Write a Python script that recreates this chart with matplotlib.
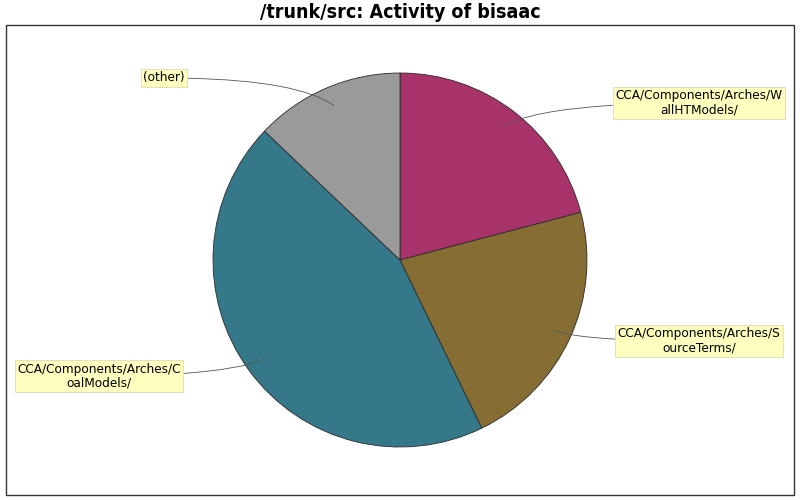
import numpy as np
import matplotlib.pyplot as plt
from matplotlib.patches import Rectangle

# Slice data (share of activity, %), clockwise from 12 o'clock
labels = ['CCA/Components/Arches/W\nallHTModels/',
          'CCA/Components/Arches/S\nourceTerms/',
          'CCA/Components/Arches/C\noalModels/',
          '(other)']
shares = [20.9, 21.9, 44.3, 12.9]
colors = ['#A8336A', '#866D34', '#347889', '#9A9A9A']

# label box centres (pixel coords, y up) and the end angle of each leader line
label_pos = [(699, 397), (699, 159), (99, 124), (164, 422)]
leader_angle = [31, -22, 22, -35]

W, H = 800, 500
fig = plt.figure(figsize=(8, 5), dpi=100)
ax = fig.add_axes([0, 0, 1, 1])

# outer frame
ax.add_patch(Rectangle((5.5, 5.5), 788.5, 469.5, fill=False,
                       edgecolor='#333333', linewidth=1.0))

cx, cy, r = 400, 240, 187
wedges, _ = ax.pie(shares, colors=colors, startangle=90, counterclock=False,
                   center=(cx, cy), radius=r, frame=True,
                   wedgeprops=dict(edgecolor='#2a2a2a', linewidth=0.6))
ax.set_xlim(0, W)
ax.set_ylim(0, H)
ax.set_aspect('equal')
ax.axis('off')

for w, lab, pos, ang in zip(wedges, labels, label_pos, leader_angle):
    mid = np.deg2rad((w.theta1 + w.theta2) / 2)
    px = cx + 0.9 * r * np.cos(mid)
    py = cy + 0.9 * r * np.sin(mid)
    ax.annotate(lab, xy=(px, py), xytext=pos, ha='center', va='center',
                fontsize=8.7, color='black', linespacing=1.1,
                bbox=dict(boxstyle='square,pad=0.2', facecolor='#FFFFC0',
                          edgecolor='#E2E2B8', linewidth=0.8),
                arrowprops=dict(arrowstyle='-', color='#555555', linewidth=0.6,
                                shrinkA=0, shrinkB=0,
                                connectionstyle=f'angle3,angleA=0,angleB={ang}'))

ax.text(400, 487, '/trunk/src: Activity of bisaac', ha='center', va='center',
        fontsize=14, fontweight='bold', fontstretch='condensed')

fig.savefig('out.png', dpi=100)
